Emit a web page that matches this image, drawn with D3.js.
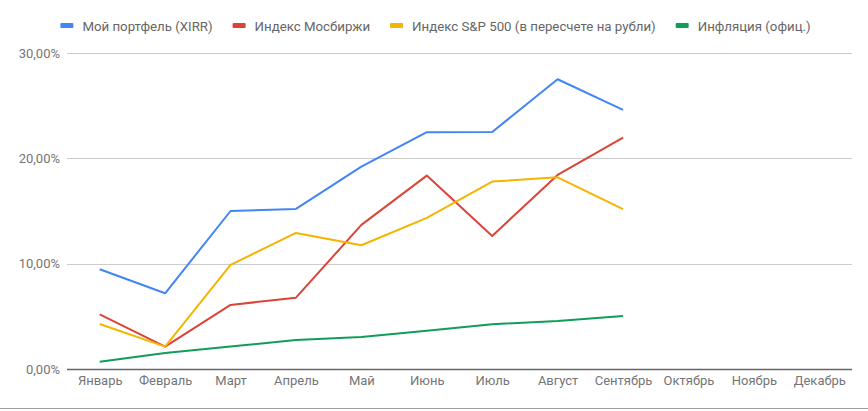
<!DOCTYPE html>
<html>
<head>
<meta charset="utf-8">
<script src="https://cdn.jsdelivr.net/npm/d3@7"></script>
<style>
  html, body { margin: 0; padding: 0; background: #fff; }
  svg { display: block; font-family: Roboto, "Noto Sans", sans-serif; }
</style>
</head>
<body>
<svg id="chart" width="868" height="411"></svg>
<script>
const months = ["Январь","Февраль","Март","Апрель","Май","Июнь","Июль","Август","Сентябрь","Октябрь","Ноябрь","Декабрь"];
const seriesNames = ["Мой портфель (XIRR)","Индекс Мосбиржи","Индекс S&P 500 (в пересчете на рубли)","Инфляция (офиц.)"];
const seriesColors = ["#4285F4","#DB4437","#F4B400","#0F9D58"];
const portfolio = [9.47, 7.19, 15.0, 15.2, 19.21, 22.48, 22.5, 27.51, 24.6];
const moex      = [5.19, 2.12, 6.08, 6.77, 13.68, 18.36, 12.63, 18.42, 21.97];
const sp500     = [4.27, 2.12, 9.88, 12.92, 11.75, 14.34, 17.79, 18.2, 15.17];
const inflation = [0.69, 1.52, 2.14, 2.75, 3.04, 3.64, 4.25, 4.56, 5.03];
const yTicks = [0, 10, 20, 30];

const allSeries = [portfolio, moex, sp500, inflation];

const svg = d3.select("#chart");
const plotLeft = 67, plotRight = 852, plotTop = 53, plotBottom = 369;

const x = d3.scalePoint().domain(months).range([plotLeft, plotRight]).padding(0.5);
const y = d3.scaleLinear().domain([0, 30]).range([plotBottom, plotTop]);

const ru = d3.formatLocale({decimal: ",", thousands: "\u00a0", grouping: [3], currency: ["", " ₽"]});
const fmt = v => ru.format(".2f")(v) + "%";

// gridlines
svg.append("g")
  .selectAll("line")
  .data(yTicks.filter(t => t !== 0))
  .join("line")
  .attr("x1", plotLeft).attr("x2", plotRight)
  .attr("y1", d => Math.round(y(d)) + 0.5).attr("y2", d => Math.round(y(d)) + 0.5)
  .attr("stroke", "#cccccc").attr("stroke-width", 1);

// y axis labels
const yAxis = d3.axisLeft(y).tickValues(yTicks).tickFormat(fmt).tickSize(0).tickPadding(7);
const gy = svg.append("g").attr("transform", `translate(${plotLeft},0)`).call(yAxis);
gy.select(".domain").remove();
gy.selectAll("text").attr("font-size", 13).attr("fill", "#757575").attr("font-family", "Roboto, sans-serif");

// x axis labels
const xAxis = d3.axisBottom(x).tickSize(0).tickPadding(7);
const gx = svg.append("g").attr("transform", `translate(0,${plotBottom})`).call(xAxis);
gx.select(".domain").remove();
gx.selectAll("text").attr("font-size", 13).attr("fill", "#757575").attr("font-family", "Roboto, sans-serif");

// lines
const line = d3.line().x((d, i) => x(months[i])).y(d => y(d));
svg.append("g")
  .selectAll("path")
  .data(allSeries)
  .join("path")
  .attr("d", d => line(d))
  .attr("fill", "none")
  .attr("stroke", (d, i) => seriesColors[i])
  .attr("stroke-width", 2)
  .attr("stroke-linejoin", "round");

// baseline
svg.append("line")
  .attr("x1", plotLeft).attr("x2", plotRight)
  .attr("y1", Math.round(y(0)) + 0.5).attr("y2", Math.round(y(0)) + 0.5)
  .attr("stroke", "#666666").attr("stroke-width", 1.5);

// legend
const legend = svg.append("g");
const items = legend.selectAll("g").data(seriesNames).join("g");
items.append("rect")
  .attr("width", 13).attr("height", 5).attr("rx", 1)
  .attr("y", -3)
  .attr("fill", (d, i) => seriesColors[i]);
items.append("text")
  .attr("x", 22).attr("dy", "0.35em")
  .attr("font-size", 13.25).attr("fill", "#666666")
  .text(d => d);
let widths = [];
items.each(function() { widths.push(this.querySelector("text").getComputedTextLength()); });
const gap = 20;
const total = d3.sum(widths) + widths.length * 22 + (widths.length - 1) * gap;
let cx = 435.5 - total / 2;
items.attr("transform", (d, i) => {
  const t = `translate(${cx},26)`;
  cx += 22 + widths[i] + gap;
  return t;
});

// bottom frame line (sheet edge)
svg.append("line")
  .attr("x1", 0).attr("x2", 868)
  .attr("y1", 408.5).attr("y2", 408.5)
  .attr("stroke", "#9e9e9e").attr("stroke-width", 1);
</script>
</body>
</html>
